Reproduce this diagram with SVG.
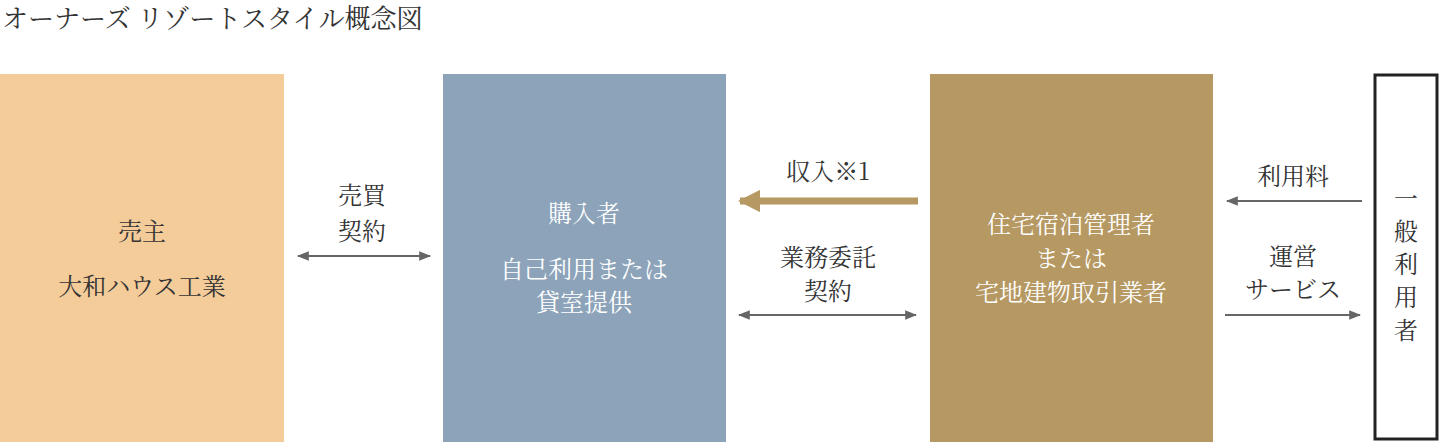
<svg xmlns="http://www.w3.org/2000/svg" width="1441" height="442" viewBox="0 0 1441 442">
<style>
text{font-family:"Noto Serif CJK JP","Noto Sans CJK JP",serif;text-anchor:middle}
.d{fill:#333;font-size:24px}
.w{fill:#fff;font-size:24px}
.l{stroke:#666;stroke-width:2;fill:none}
</style>
<defs>
<marker id="a" viewBox="0 0 10 10" refX="9" refY="5" markerWidth="6" markerHeight="6" orient="auto-start-reverse"><path d="M0,1L10,5L0,9z" fill="#666"/></marker>
<marker id="g" viewBox="0 0 10 10" refX="9" refY="5" markerWidth="3.2" markerHeight="3.2" orient="auto"><path d="M0,0L10,5L0,10z" fill="#b59862"/></marker>
</defs>
<text x="2" y="28" style="text-anchor:start;font-size:26px;fill:#333">オーナーズ リゾートスタイル概念図</text>
<g id="seller"><rect x="0" y="74" width="284" height="368" fill="#f3cc99"/><text class="d" x="142" y="240">売主</text><text class="d" x="142" y="295">大和ハウス工業</text></g>
<g id="buyer"><rect x="443" y="74" width="283" height="368" fill="#8ca3b9"/><text class="w" x="584" y="222">購入者</text><text class="w" x="584" y="278">自己利用または</text><text class="w" x="584" y="311">貸室提供</text></g>
<g id="manager"><rect x="930" y="74" width="283" height="368" fill="#b59862"/><text class="w" x="1071" y="233">住宅宿泊管理者</text><text class="w" x="1071" y="267">または</text><text class="w" x="1071" y="301">宅地建物取引業者</text></g>
<g id="user"><rect x="1375" y="75" width="62" height="364" fill="#fff" stroke="#222" stroke-width="3"/><text class="d" x="1406" y="207">一</text><text class="d" x="1406" y="240">般</text><text class="d" x="1406" y="273">利</text><text class="d" x="1406" y="306">用</text><text class="d" x="1406" y="339">者</text></g>
<g id="connectors">
<line class="l" x1="298" y1="256" x2="430" y2="256" marker-start="url(#a)" marker-end="url(#a)"/>
<text class="d" x="362" y="204">売買</text><text class="d" x="362" y="240">契約</text>
<line x1="918" y1="201" x2="740" y2="201" stroke="#b59862" stroke-width="7" marker-end="url(#g)"/>
<text class="d" x="828" y="180">収入※1</text>
<line class="l" x1="739" y1="315" x2="916" y2="315" marker-start="url(#a)" marker-end="url(#a)"/>
<text class="d" x="828" y="266">業務委託</text><text class="d" x="828" y="300">契約</text>
<line class="l" x1="1362" y1="201" x2="1227" y2="201" marker-end="url(#a)"/>
<text class="d" x="1293" y="185">利用料</text>
<line class="l" x1="1225" y1="315" x2="1360" y2="315" marker-end="url(#a)"/>
<text class="d" x="1293" y="265">運営</text><text class="d" x="1293" y="298">サービス</text>
</g>
</svg>
